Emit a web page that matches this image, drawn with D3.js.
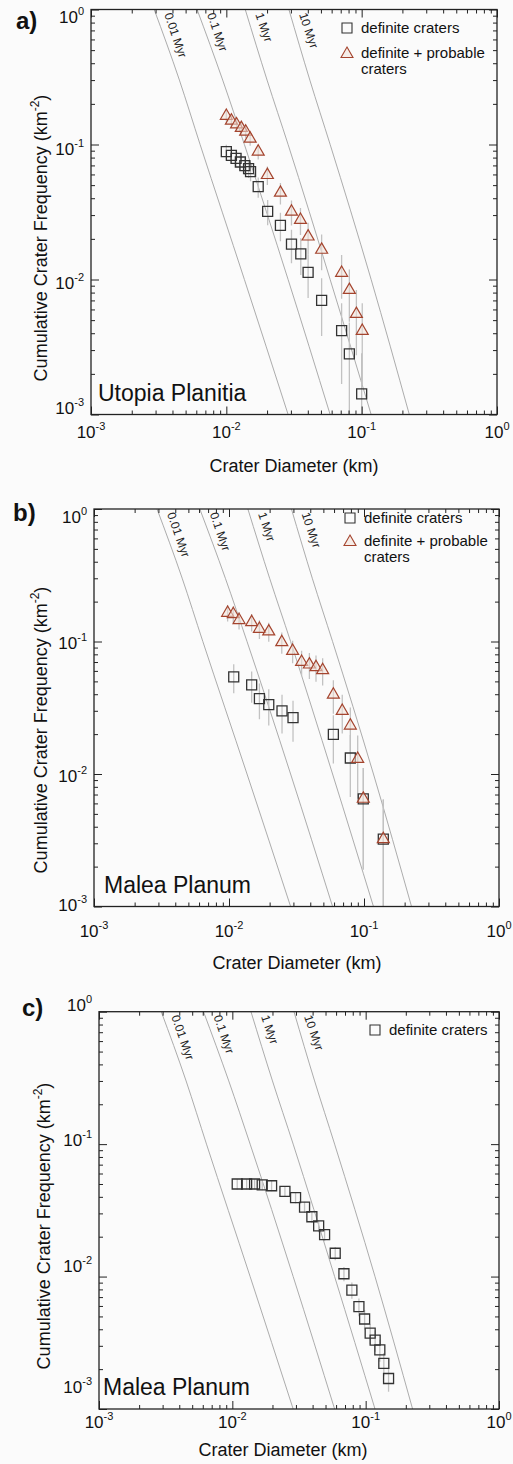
<!DOCTYPE html>
<html>
<head>
<meta charset="utf-8">
<script src="https://cdn.jsdelivr.net/npm/d3@7"></script>
<style>
body { margin: 0; background: #fbfbfb; }
svg { display: block; font-family: "Liberation Sans", Arial, Helvetica, sans-serif; }
</style>
</head>
<body>
<svg id="fig" width="513" height="1464"></svg>
<script>
// axis ranges / ticks
var xDomain = [1e-3, 1];
var yDomain = [1e-3, 1];
var majorTicks = [1e-3, 1e-2, 1e-1, 1];
var tickExp = ["-3", "-2", "-1", "0"];

// isochrons (Hartmann-type)
var isoAges = ["0.01 Myr", "0.1 Myr", "1 Myr", "10 Myr"];
var isoN = [1, 0.3, 0.1, 0.01, 0.001];
var iso001D = [0.00293, 0.0045, 0.0064, 0.0136, 0.0286];
var iso01D = [0.00608, 0.0094, 0.0136, 0.0286, 0.0585];
var iso1D = [0.0138, 0.0200, 0.0286, 0.0585, 0.1175];
var iso10D = [0.0290, 0.0414, 0.0585, 0.1175, 0.2249];

// a) Utopia Planitia
var aDefD = [0.0100, 0.0109, 0.0118, 0.0127, 0.0137, 0.0146, 0.0151, 0.0172, 0.0202, 0.0251, 0.0303, 0.0355, 0.0402, 0.0506, 0.0711, 0.0811, 0.1000];
var aDefN = [0.0885, 0.0832, 0.0790, 0.0742, 0.0697, 0.0662, 0.0629, 0.0487, 0.0320, 0.0252, 0.0183, 0.0155, 0.0113, 0.00701, 0.00418, 0.00281, 0.00142];
var aDefErr = [0.0112, 0.0109, 0.0106, 0.0102, 0.0099, 0.0097, 0.0094, 0.0083, 0.0068, 0.0060, 0.0051, 0.0047, 0.0040, 0.0032, 0.0025, 0.0020, 0.00142];
var aProbD = [0.0100, 0.0109, 0.0119, 0.0129, 0.0139, 0.0150, 0.0172, 0.0201, 0.0251, 0.0303, 0.0353, 0.0402, 0.0506, 0.0711, 0.0811, 0.0914, 0.1010];
var aProbN = [0.163, 0.150, 0.141, 0.1325, 0.1244, 0.1104, 0.0885, 0.0594, 0.0439, 0.0318, 0.0276, 0.0208, 0.0166, 0.0112, 0.00836, 0.00555, 0.00416];
var aProbErr = [0.0152, 0.0146, 0.0141, 0.0137, 0.0133, 0.0125, 0.0112, 0.0092, 0.0079, 0.0067, 0.0062, 0.0055, 0.0049, 0.0040, 0.0035, 0.0028, 0.0025];

// b) Malea Planum
var bDefD = [0.01084, 0.01472, 0.0168, 0.0197, 0.0247, 0.0298, 0.0593, 0.0792, 0.0988, 0.139];
var bDefN = [0.0540, 0.0470, 0.0371, 0.0334, 0.0299, 0.0266, 0.0199, 0.0132, 0.0065, 0.00322];
var bDefErr = [0.0133, 0.0125, 0.0112, 0.0102, 0.0097, 0.0091, 0.0079, 0.0065, 0.0046, 0.0032];
var bProbD = [0.00977, 0.01076, 0.01187, 0.01472, 0.0168, 0.0197, 0.0246, 0.0296, 0.0345, 0.0394, 0.0441, 0.0494, 0.0593, 0.0690, 0.0792, 0.0898, 0.0988, 0.139];
var bProbN = [0.1645, 0.161, 0.145, 0.140, 0.1245, 0.119, 0.0988, 0.0849, 0.0702, 0.0670, 0.0640, 0.0607, 0.0397, 0.0299, 0.0232, 0.0130, 0.0065, 0.00322];
var bProbErr = [0.0230, 0.0228, 0.0216, 0.0212, 0.0201, 0.0196, 0.0180, 0.0164, 0.0151, 0.0148, 0.0144, 0.0141, 0.0112, 0.0097, 0.0085, 0.0065, 0.0046, 0.0032];

// c) Malea Planum
var cDefD = [0.01088, 0.0128, 0.01469, 0.01675, 0.0197, 0.0248, 0.0298, 0.0348, 0.0395, 0.0444, 0.0492, 0.0591, 0.0687, 0.0788, 0.0890, 0.0982, 0.1081, 0.1178, 0.1277, 0.1368, 0.1485];
var cDefN = [0.0500, 0.0500, 0.0500, 0.0493, 0.0485, 0.0440, 0.0394, 0.0335, 0.0283, 0.0241, 0.0207, 0.0150, 0.0105, 0.00791, 0.00592, 0.00478, 0.00374, 0.00331, 0.00280, 0.00221, 0.00170];
var cDefErr = [0.0045, 0.0045, 0.0045, 0.0044, 0.0044, 0.0040, 0.0037, 0.0032, 0.0028, 0.0025, 0.0022, 0.0017, 0.0013, 0.0011, 0.0009, 0.0008, 0.00066, 0.0006, 0.00053, 0.00044, 0.00035];

var svg = d3.select("#fig");
var isoD = [iso001D, iso01D, iso1D, iso10D];

var panels = [
    {id: "a", left: 91, top: 9.5, w: 406, h: 405, letter: "a)", lx: 16, ly: 29, region: "Utopia Planitia", rx: 7,
     yLabDy: [-1, 9, 10, 13], xLabDy: 23, xTitleDy: 57, xTitleX: 294, yTitleX: 47, yTitleY: 238,
     legX: 347, legY: 28, legProb: true, legGap: 26,
     series: [[aDefD, aDefN, aDefErr], [aProbD, aProbN, aProbErr]]},
    {id: "b", left: 94, top: 509, w: 405, h: 397.5, letter: "b)", lx: 13, ly: 521, region: "Malea Planum", rx: 10,
     yLabDy: [4, 8, 7, 14], xLabDy: 30, xTitleDy: 62, xTitleX: 297, yTitleX: 47, yTitleY: 730,
     legX: 350, legY: 518, legProb: true, legGap: 24,
     series: [[bDefD, bDefN, bDefErr], [bProbD, bProbN, bProbErr]]},
    {id: "c", left: 99, top: 1011.7, w: 400, h: 397.3, letter: "c)", lx: 22, ly: 1016, region: "Malea Planum", rx: 4,
     yLabDy: [-16, -5, 2, -1], xLabDy: 19, xTitleDy: 47, xTitleX: 283, yTitleX: 50, yTitleY: 1226,
     legX: 375, legY: 1030, legProb: false, legGap: 0,
     series: [[cDefD, cDefN, cDefErr]]}
];

var isPow10 = function (t) {
    var l = Math.log10(t);
    return Math.abs(l - Math.round(l)) < 1e-9;
};

function powLabel(sel, exp) {
    sel.append("tspan").text("10");
    sel.append("tspan").attr("font-size", 11).attr("dy", -8).text(exp);
}

function drawPanel(p) {
    var x = d3.scaleLog().domain(xDomain).range([p.left, p.left + p.w]);
    var y = d3.scaleLog().domain(yDomain).range([p.top + p.h, p.top]);
    var g = svg.append("g");

    g.append("clipPath").attr("id", "clip-" + p.id)
        .append("rect")
        .attr("x", p.left).attr("y", p.top)
        .attr("width", p.w).attr("height", p.h);
    var inner = g.append("g").attr("clip-path", "url(#clip-" + p.id + ")");

    // isochrons
    var line = d3.line()
        .x(function (d) { return x(d[0]); })
        .y(function (d) { return y(d[1]); })
        .curve(d3.curveMonotoneX);
    isoD.forEach(function (ds, k) {
        var pts = ds.map(function (d, i) { return [d, isoN[i]]; });
        inner.append("path").attr("d", line(pts))
            .attr("fill", "none").attr("stroke", "#a3a3a3").attr("stroke-width", 0.9);
        g.append("text")
            .attr("transform", "translate(" + (x(ds[0]) + 10) + "," + (y(isoN[0]) + 5) + ") rotate(71)")
            .attr("font-size", 12).attr("fill", "#222")
            .text(isoAges[k]);
    });

    // error bars
    p.series.forEach(function (s) {
        s[0].forEach(function (d, i) {
            var lo = Math.max(s[1][i] - s[2][i], 1e-4);
            inner.append("line")
                .attr("x1", x(d)).attr("x2", x(d))
                .attr("y1", y(lo)).attr("y2", y(s[1][i] + s[2][i]))
                .attr("stroke", "#c2c2c2").attr("stroke-width", 1.3);
        });
    });

    // markers
    var sq = d3.symbol().type(d3.symbolSquare).size(100);
    var tri = d3.symbol().type(d3.symbolTriangle).size(62);
    p.series.forEach(function (s, si) {
        s[0].forEach(function (d, i) {
            var m = g.append("path")
                .attr("transform", "translate(" + x(d) + "," + y(s[1][i]) + ")");
            if (si === 0) {
                m.attr("d", sq()).attr("fill", "none").attr("stroke", "#333").attr("stroke-width", 1.3);
            } else {
                m.attr("d", tri()).attr("fill", "#f3e2d9").attr("fill-opacity", 0.55)
                    .attr("stroke", "#a4442e").attr("stroke-width", 1.2);
            }
        });
    });

    // ticks on all four sides, pointing inward
    var minor = x.ticks().filter(function (t) { return !isPow10(t); });
    var sides = [
        [d3.axisBottom(x), "translate(0," + (p.top + p.h) + ")"],
        [d3.axisTop(x), "translate(0," + p.top + ")"],
        [d3.axisLeft(y), "translate(" + p.left + ",0)"],
        [d3.axisRight(y), "translate(" + (p.left + p.w) + ",0)"]
    ];
    sides.forEach(function (sd) {
        [[majorTicks, 8], [minor, 4]].forEach(function (tv) {
            var ax = sd[0].tickValues(tv[0]).tickSize(-tv[1]).tickSizeOuter(0).tickFormat("");
            var ga = g.append("g").attr("transform", sd[1]).call(ax);
            ga.select(".domain").remove();
            ga.selectAll("line").attr("stroke", "#222").attr("stroke-width", 1);
        });
    });

    g.append("rect")
        .attr("x", p.left).attr("y", p.top)
        .attr("width", p.w).attr("height", p.h)
        .attr("fill", "none").attr("stroke", "#222").attr("stroke-width", 1.3);

    // tick labels
    majorTicks.forEach(function (t, i) {
        var tx = g.append("text")
            .attr("x", x(t)).attr("y", p.top + p.h + p.xLabDy)
            .attr("text-anchor", "middle").attr("font-size", 17).attr("fill", "#111");
        powLabel(tx, tickExp[i]);
        var ty = g.append("text")
            .attr("x", p.left - 7).attr("y", y(t) + p.yLabDy[i])
            .attr("text-anchor", "end").attr("font-size", 17).attr("fill", "#111");
        powLabel(ty, tickExp[i]);
    });

    // axis titles
    g.append("text")
        .attr("x", p.xTitleX).attr("y", p.top + p.h + p.xTitleDy)
        .attr("text-anchor", "middle").attr("font-size", 18).attr("fill", "#111")
        .text("Crater Diameter (km)");
    var yt = g.append("text")
        .attr("transform", "translate(" + p.yTitleX + "," + p.yTitleY + ") rotate(-90)")
        .attr("text-anchor", "middle").attr("font-size", 18).attr("fill", "#111");
    yt.append("tspan").text("Cumulative Crater Frequency (km");
    yt.append("tspan").attr("font-size", 12).attr("dy", -8).text("-2");
    yt.append("tspan").attr("dy", 8).text(")");

    // panel letter and region name
    g.append("text").attr("x", p.lx).attr("y", p.ly)
        .attr("font-size", 24).attr("font-weight", "bold").attr("fill", "#111")
        .text(p.letter);
    g.append("text").attr("x", p.left + p.rx).attr("y", p.top + p.h - 14)
        .attr("font-size", 23).attr("fill", "#111")
        .text(p.region);

    // legend
    g.append("path").attr("d", sq())
        .attr("transform", "translate(" + p.legX + "," + p.legY + ")")
        .attr("fill", "none").attr("stroke", "#333").attr("stroke-width", 1.1);
    g.append("text").attr("x", p.legX + 14).attr("y", p.legY + 5)
        .attr("font-size", 15).attr("fill", "#111").text("definite craters");
    if (p.legProb) {
        g.append("path").attr("d", tri())
            .attr("transform", "translate(" + p.legX + "," + (p.legY + p.legGap) + ")")
            .attr("fill", "#f3e2d9").attr("fill-opacity", 0.55)
            .attr("stroke", "#a4442e").attr("stroke-width", 1.1);
        g.append("text").attr("x", p.legX + 14).attr("y", p.legY + p.legGap + 4)
            .attr("font-size", 15).attr("fill", "#111").text("definite + probable");
        g.append("text").attr("x", p.legX + 14).attr("y", p.legY + p.legGap + 20)
            .attr("font-size", 15).attr("fill", "#111").text("craters");
    }
}

panels.forEach(drawPanel);
</script>
</body>
</html>
